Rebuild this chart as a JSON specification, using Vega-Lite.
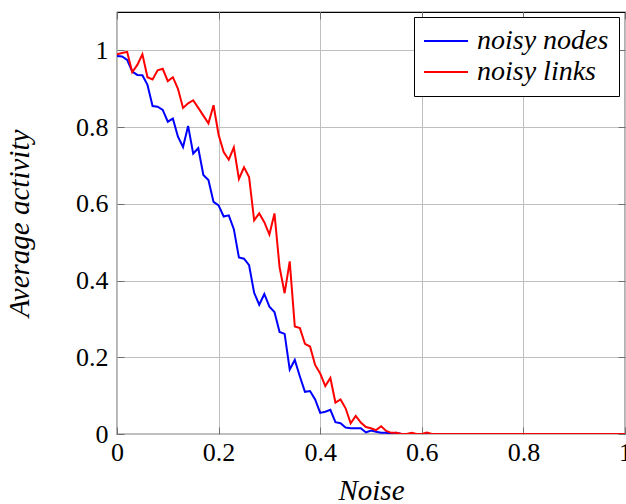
{
  "$schema": "https://vega.github.io/schema/vega-lite/v6.json",
  "autosize": {"type": "none"},
  "padding": {"left": 117, "top": 12, "right": 1, "bottom": 70},
  "width": 508,
  "height": 422,
  "background": "white",
  "config": {
    "view": {"stroke": "black", "strokeWidth": 1.2},
    "font": "Liberation Serif",
    "axis": {"labelFont": "Liberation Serif", "titleFont": "Liberation Serif"},
    "legend": {"labelFont": "Liberation Serif"}
  },
  "data": {
    "values": [
      {"noise": 0.00, "activity": 0.985, "series": "noisy nodes"},
      {"noise": 0.01, "activity": 0.984, "series": "noisy nodes"},
      {"noise": 0.02, "activity": 0.975, "series": "noisy nodes"},
      {"noise": 0.03, "activity": 0.945, "series": "noisy nodes"},
      {"noise": 0.04, "activity": 0.936, "series": "noisy nodes"},
      {"noise": 0.05, "activity": 0.935, "series": "noisy nodes"},
      {"noise": 0.06, "activity": 0.91, "series": "noisy nodes"},
      {"noise": 0.07, "activity": 0.855, "series": "noisy nodes"},
      {"noise": 0.08, "activity": 0.853, "series": "noisy nodes"},
      {"noise": 0.09, "activity": 0.845, "series": "noisy nodes"},
      {"noise": 0.10, "activity": 0.814, "series": "noisy nodes"},
      {"noise": 0.11, "activity": 0.822, "series": "noisy nodes"},
      {"noise": 0.12, "activity": 0.775, "series": "noisy nodes"},
      {"noise": 0.13, "activity": 0.748, "series": "noisy nodes"},
      {"noise": 0.14, "activity": 0.803, "series": "noisy nodes"},
      {"noise": 0.15, "activity": 0.731, "series": "noisy nodes"},
      {"noise": 0.16, "activity": 0.745, "series": "noisy nodes"},
      {"noise": 0.17, "activity": 0.675, "series": "noisy nodes"},
      {"noise": 0.18, "activity": 0.662, "series": "noisy nodes"},
      {"noise": 0.19, "activity": 0.605, "series": "noisy nodes"},
      {"noise": 0.20, "activity": 0.596, "series": "noisy nodes"},
      {"noise": 0.21, "activity": 0.567, "series": "noisy nodes"},
      {"noise": 0.22, "activity": 0.57, "series": "noisy nodes"},
      {"noise": 0.23, "activity": 0.534, "series": "noisy nodes"},
      {"noise": 0.24, "activity": 0.46, "series": "noisy nodes"},
      {"noise": 0.25, "activity": 0.457, "series": "noisy nodes"},
      {"noise": 0.26, "activity": 0.44, "series": "noisy nodes"},
      {"noise": 0.27, "activity": 0.368, "series": "noisy nodes"},
      {"noise": 0.28, "activity": 0.337, "series": "noisy nodes"},
      {"noise": 0.29, "activity": 0.365, "series": "noisy nodes"},
      {"noise": 0.30, "activity": 0.332, "series": "noisy nodes"},
      {"noise": 0.31, "activity": 0.318, "series": "noisy nodes"},
      {"noise": 0.32, "activity": 0.266, "series": "noisy nodes"},
      {"noise": 0.33, "activity": 0.261, "series": "noisy nodes"},
      {"noise": 0.34, "activity": 0.168, "series": "noisy nodes"},
      {"noise": 0.35, "activity": 0.193, "series": "noisy nodes"},
      {"noise": 0.36, "activity": 0.15, "series": "noisy nodes"},
      {"noise": 0.37, "activity": 0.11, "series": "noisy nodes"},
      {"noise": 0.38, "activity": 0.112, "series": "noisy nodes"},
      {"noise": 0.39, "activity": 0.09, "series": "noisy nodes"},
      {"noise": 0.40, "activity": 0.055, "series": "noisy nodes"},
      {"noise": 0.41, "activity": 0.058, "series": "noisy nodes"},
      {"noise": 0.42, "activity": 0.063, "series": "noisy nodes"},
      {"noise": 0.43, "activity": 0.031, "series": "noisy nodes"},
      {"noise": 0.44, "activity": 0.028, "series": "noisy nodes"},
      {"noise": 0.45, "activity": 0.017, "series": "noisy nodes"},
      {"noise": 0.46, "activity": 0.015, "series": "noisy nodes"},
      {"noise": 0.47, "activity": 0.015, "series": "noisy nodes"},
      {"noise": 0.48, "activity": 0.015, "series": "noisy nodes"},
      {"noise": 0.49, "activity": 0.004, "series": "noisy nodes"},
      {"noise": 0.50, "activity": 0.009, "series": "noisy nodes"},
      {"noise": 0.51, "activity": 0.006, "series": "noisy nodes"},
      {"noise": 0.52, "activity": 0.003, "series": "noisy nodes"},
      {"noise": 0.53, "activity": 0.003, "series": "noisy nodes"},
      {"noise": 0.54, "activity": 0.001, "series": "noisy nodes"},
      {"noise": 0.55, "activity": 0.003, "series": "noisy nodes"},
      {"noise": 0.56, "activity": 0.0, "series": "noisy nodes"},
      {"noise": 0.57, "activity": 0.0, "series": "noisy nodes"},
      {"noise": 0.58, "activity": 0.0, "series": "noisy nodes"},
      {"noise": 0.59, "activity": 0.0, "series": "noisy nodes"},
      {"noise": 0.60, "activity": 0.0, "series": "noisy nodes"},
      {"noise": 0.65, "activity": 0.0, "series": "noisy nodes"},
      {"noise": 0.70, "activity": 0.0, "series": "noisy nodes"},
      {"noise": 0.75, "activity": 0.0, "series": "noisy nodes"},
      {"noise": 0.80, "activity": 0.0, "series": "noisy nodes"},
      {"noise": 0.85, "activity": 0.0, "series": "noisy nodes"},
      {"noise": 0.90, "activity": 0.0, "series": "noisy nodes"},
      {"noise": 0.95, "activity": 0.0, "series": "noisy nodes"},
      {"noise": 1.00, "activity": 0.0, "series": "noisy nodes"},
      {"noise": 0.00, "activity": 0.99, "series": "noisy links"},
      {"noise": 0.01, "activity": 0.993, "series": "noisy links"},
      {"noise": 0.02, "activity": 0.996, "series": "noisy links"},
      {"noise": 0.03, "activity": 0.943, "series": "noisy links"},
      {"noise": 0.04, "activity": 0.962, "series": "noisy links"},
      {"noise": 0.05, "activity": 0.99, "series": "noisy links"},
      {"noise": 0.06, "activity": 0.93, "series": "noisy links"},
      {"noise": 0.07, "activity": 0.924, "series": "noisy links"},
      {"noise": 0.08, "activity": 0.948, "series": "noisy links"},
      {"noise": 0.09, "activity": 0.952, "series": "noisy links"},
      {"noise": 0.10, "activity": 0.92, "series": "noisy links"},
      {"noise": 0.11, "activity": 0.93, "series": "noisy links"},
      {"noise": 0.12, "activity": 0.9, "series": "noisy links"},
      {"noise": 0.13, "activity": 0.85, "series": "noisy links"},
      {"noise": 0.14, "activity": 0.862, "series": "noisy links"},
      {"noise": 0.15, "activity": 0.87, "series": "noisy links"},
      {"noise": 0.16, "activity": 0.85, "series": "noisy links"},
      {"noise": 0.17, "activity": 0.83, "series": "noisy links"},
      {"noise": 0.18, "activity": 0.81, "series": "noisy links"},
      {"noise": 0.19, "activity": 0.857, "series": "noisy links"},
      {"noise": 0.20, "activity": 0.78, "series": "noisy links"},
      {"noise": 0.21, "activity": 0.735, "series": "noisy links"},
      {"noise": 0.22, "activity": 0.715, "series": "noisy links"},
      {"noise": 0.23, "activity": 0.747, "series": "noisy links"},
      {"noise": 0.24, "activity": 0.665, "series": "noisy links"},
      {"noise": 0.25, "activity": 0.695, "series": "noisy links"},
      {"noise": 0.26, "activity": 0.67, "series": "noisy links"},
      {"noise": 0.27, "activity": 0.557, "series": "noisy links"},
      {"noise": 0.28, "activity": 0.575, "series": "noisy links"},
      {"noise": 0.29, "activity": 0.552, "series": "noisy links"},
      {"noise": 0.30, "activity": 0.52, "series": "noisy links"},
      {"noise": 0.31, "activity": 0.575, "series": "noisy links"},
      {"noise": 0.32, "activity": 0.435, "series": "noisy links"},
      {"noise": 0.33, "activity": 0.367, "series": "noisy links"},
      {"noise": 0.34, "activity": 0.45, "series": "noisy links"},
      {"noise": 0.35, "activity": 0.28, "series": "noisy links"},
      {"noise": 0.36, "activity": 0.276, "series": "noisy links"},
      {"noise": 0.37, "activity": 0.235, "series": "noisy links"},
      {"noise": 0.38, "activity": 0.228, "series": "noisy links"},
      {"noise": 0.39, "activity": 0.18, "series": "noisy links"},
      {"noise": 0.40, "activity": 0.158, "series": "noisy links"},
      {"noise": 0.41, "activity": 0.125, "series": "noisy links"},
      {"noise": 0.42, "activity": 0.146, "series": "noisy links"},
      {"noise": 0.43, "activity": 0.082, "series": "noisy links"},
      {"noise": 0.44, "activity": 0.09, "series": "noisy links"},
      {"noise": 0.45, "activity": 0.067, "series": "noisy links"},
      {"noise": 0.46, "activity": 0.028, "series": "noisy links"},
      {"noise": 0.47, "activity": 0.047, "series": "noisy links"},
      {"noise": 0.48, "activity": 0.03, "series": "noisy links"},
      {"noise": 0.49, "activity": 0.018, "series": "noisy links"},
      {"noise": 0.50, "activity": 0.015, "series": "noisy links"},
      {"noise": 0.51, "activity": 0.01, "series": "noisy links"},
      {"noise": 0.52, "activity": 0.02, "series": "noisy links"},
      {"noise": 0.53, "activity": 0.008, "series": "noisy links"},
      {"noise": 0.54, "activity": 0.003, "series": "noisy links"},
      {"noise": 0.55, "activity": 0.003, "series": "noisy links"},
      {"noise": 0.56, "activity": 0.0, "series": "noisy links"},
      {"noise": 0.57, "activity": 0.0, "series": "noisy links"},
      {"noise": 0.58, "activity": 0.003, "series": "noisy links"},
      {"noise": 0.59, "activity": 0.0, "series": "noisy links"},
      {"noise": 0.60, "activity": 0.0, "series": "noisy links"},
      {"noise": 0.61, "activity": 0.004, "series": "noisy links"},
      {"noise": 0.62, "activity": 0.0, "series": "noisy links"},
      {"noise": 0.65, "activity": 0.0, "series": "noisy links"},
      {"noise": 0.70, "activity": 0.0, "series": "noisy links"},
      {"noise": 0.75, "activity": 0.0, "series": "noisy links"},
      {"noise": 0.80, "activity": 0.0, "series": "noisy links"},
      {"noise": 0.85, "activity": 0.0, "series": "noisy links"},
      {"noise": 0.90, "activity": 0.0, "series": "noisy links"},
      {"noise": 0.95, "activity": 0.0, "series": "noisy links"},
      {"noise": 1.00, "activity": 0.0, "series": "noisy links"}
    ]
  },
  "resolve": {"axis": {"x": "independent", "y": "independent"}},
  "layer": [
    {
      "transform": [{"filter": "datum.series == 'noisy nodes'"}],
      "mark": {"type": "line", "strokeWidth": 2, "clip": true},
      "encoding": {
        "x": {
          "field": "noise",
          "type": "quantitative",
          "scale": {"domain": [0, 1], "nice": false, "zero": false},
          "axis": {
            "orient": "bottom",
            "title": "Noise",
            "titleFont": "Liberation Serif",
            "titleFontStyle": "italic",
            "titleFontWeight": "normal",
            "titleFontSize": 29,
            "titleColor": "black",
            "titlePadding": 11,
            "values": [0, 0.2, 0.4, 0.6, 0.8, 1],
            "format": "~g",
            "labelFont": "Liberation Serif",
            "labelFontSize": 26,
            "labelColor": "black",
            "labelPadding": 12,
            "tickSize": -7,
            "tickColor": "#6f6f6f",
            "domain": false,
            "grid": true,
            "gridColor": "#bfbfbf",
            "gridWidth": 1,
            "labelFlush": false
          }
        },
        "y": {
          "field": "activity",
          "type": "quantitative",
          "scale": {"domain": [0, 1.1], "nice": false},
          "axis": {
            "orient": "left",
            "title": "Average activity",
            "titleFont": "Liberation Serif",
            "titleFontStyle": "italic",
            "titleFontWeight": "normal",
            "titleFontSize": 29,
            "titleColor": "black",
            "titlePadding": 41,
            "values": [0, 0.2, 0.4, 0.6, 0.8, 1],
            "format": "~g",
            "labelFont": "Liberation Serif",
            "labelFontSize": 26,
            "labelColor": "black",
            "labelPadding": 16,
            "tickSize": -7,
            "tickColor": "#6f6f6f",
            "domain": false,
            "grid": true,
            "gridColor": "#bfbfbf",
            "gridWidth": 1
          }
        },
        "color": {
          "field": "series",
          "type": "nominal",
          "scale": {"domain": ["noisy nodes", "noisy links"], "range": ["#0000ff", "#ff0000"]},
          "legend": {
            "title": null,
            "orient": "none",
            "legendX": 297,
            "legendY": 5,
            "strokeColor": "black",
            "fillColor": "white",
            "padding": 10,
            "symbolType": "M-2.8,0H6",
            "symbolSize": 100,
            "symbolStrokeWidth": 2,
            "symbolFillColor": "transparent",
            "labelFont": "Liberation Serif",
            "labelFontSize": 28,
            "labelFontStyle": "italic",
            "labelColor": "black",
            "labelOffset": 25,
            "rowPadding": 3
          }
        }
      }
    },
    {
      "transform": [{"filter": "datum.series == 'noisy links'"}],
      "mark": {"type": "line", "strokeWidth": 2, "clip": true},
      "encoding": {
        "x": {
          "field": "noise",
          "type": "quantitative",
          "axis": {
            "orient": "top",
            "title": null,
            "labels": false,
            "values": [0, 0.2, 0.4, 0.6, 0.8, 1],
            "tickSize": -7,
            "tickColor": "#6f6f6f",
            "domain": false,
            "grid": false
          }
        },
        "y": {
          "field": "activity",
          "type": "quantitative",
          "axis": {
            "orient": "right",
            "title": null,
            "labels": false,
            "values": [0, 0.2, 0.4, 0.6, 0.8, 1],
            "tickSize": -7,
            "tickColor": "#6f6f6f",
            "domain": false,
            "grid": false
          }
        },
        "color": {"field": "series", "type": "nominal"}
      }
    }
  ]
}
